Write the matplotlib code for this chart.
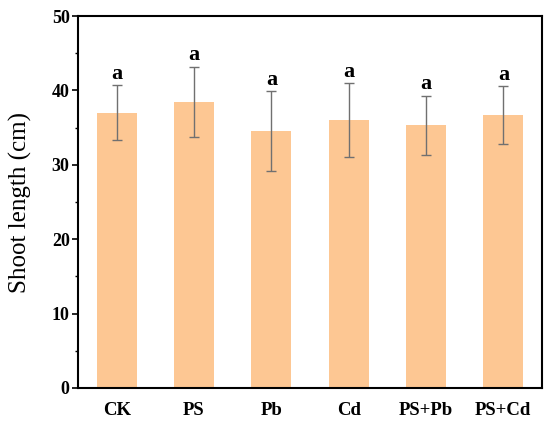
import numpy as np
import matplotlib
matplotlib.use("Agg")
import matplotlib.pyplot as plt
from matplotlib.ticker import MultipleLocator

# ── data ─────────────────────────────────────────────────────────────────────
groups = ["CK", "PS", "Pb", "Cd", "PS+Pb", "PS+Cd"]
shoot_len = [37.0, 38.5, 34.5, 36.0, 35.3, 36.7]
shoot_err = [3.7, 4.7, 5.4, 4.95, 4.0, 3.85]
letters = ["a", "a", "a", "a", "a", "a"]

BAR_COLOR = "#FDC793"
ERR_COLOR = "#707070"

plt.rcParams["font.family"] = ["Liberation Serif", "DejaVu Serif"]

fig = plt.figure(figsize=(5.5, 4.26), dpi=100)
ax = fig.add_axes([78 / 550, 1 - 388 / 426, 464 / 550, 372 / 426])

x = np.arange(len(groups))
ax.bar(x, shoot_len, width=0.52, color=BAR_COLOR, zorder=1)
ax.errorbar(x, shoot_len, yerr=shoot_err, fmt="none", ecolor=ERR_COLOR,
            elinewidth=1.0, capsize=3.5, capthick=1.0, zorder=2)

for xi, v, e, lab in zip(x, shoot_len, shoot_err, letters):
    ax.text(xi, v + e + 0.2, lab, ha="center", va="bottom",
            fontsize=16, fontweight="bold")

ax.set_xlim(-0.5, len(groups) - 0.5)
ax.set_ylim(0, 50)
ax.set_xticks(x)
ax.set_xticklabels(groups, fontsize=13.5, fontweight="bold")
ax.yaxis.set_major_locator(MultipleLocator(10))
ax.yaxis.set_minor_locator(MultipleLocator(5))
for lab in ax.get_yticklabels():
    lab.set_fontweight("bold")
    lab.set_fontsize(13)
ax.tick_params(axis="x", length=0, pad=10)
ax.tick_params(axis="y", which="major", direction="out", length=4, width=1.2, pad=2)
ax.tick_params(axis="y", which="minor", direction="out", length=2.5, width=1.0)
ax.set_ylabel("Shoot length (cm)", fontsize=18, labelpad=14)

for s in ax.spines.values():
    s.set_linewidth(1.5)

fig.savefig("out.png", dpi=100)
